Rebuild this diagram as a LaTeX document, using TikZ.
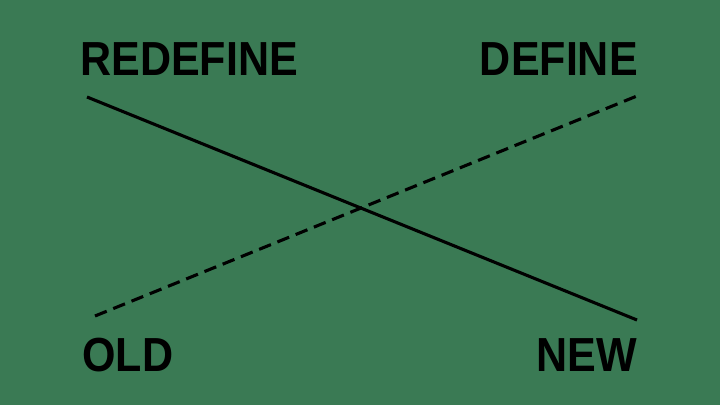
\documentclass[tikz,border=0pt]{standalone}
\usepackage{fontspec}
\setmainfont{Liberation Sans}
\definecolor{boardgreen}{RGB}{58,122,84}
\tikzset{
  word/.style={font=\fontsize{34}{34}\selectfont\bfseries, inner sep=0pt, xscale=0.9},
  stroke/.style={line width=2.2pt}
}
\begin{document}
\begin{tikzpicture}[x=0.025cm, y=-0.025cm]
  % background
  \fill[boardgreen] (0,0) rectangle (720,405);
  % words
  \node[word, anchor=base west] (redefine) at (80,76) {REDEFINE};
  \node[word, anchor=base east] (define) at (638,76) {DEFINE};
  \node[word, anchor=base west] (old) at (82,371) {OLD};
  \node[word, anchor=base east] (new) at (637,371) {NEW};
  % line ends
  \coordinate (a) at (87,97);
  \coordinate (b) at (637,320);
  \coordinate (c) at (95,316);
  \coordinate (d) at (637,96);
  \draw[stroke] (a) -- (b);
  \draw[stroke, dash pattern=on 9pt off 5pt] (c) -- (d);
\end{tikzpicture}
\end{document}
